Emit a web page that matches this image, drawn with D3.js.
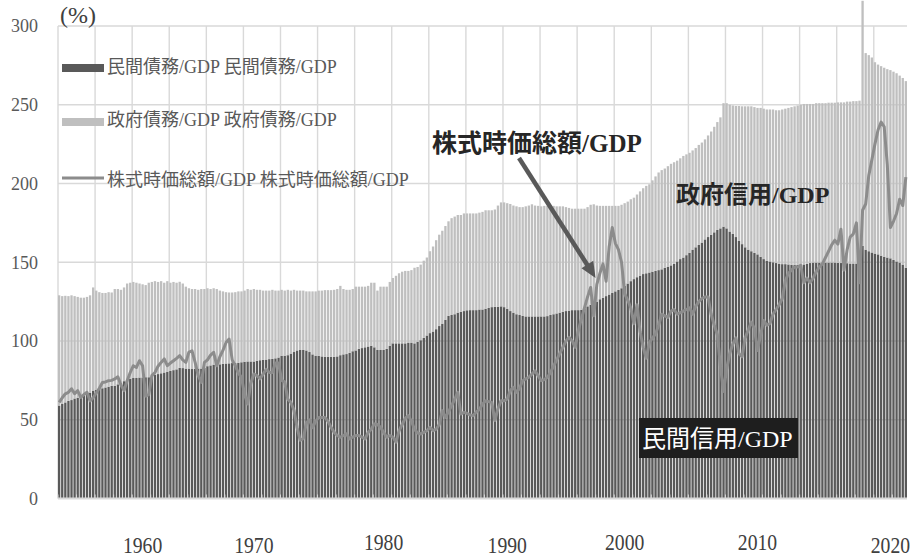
<!DOCTYPE html>
<html><head><meta charset="utf-8">
<script src="https://cdn.jsdelivr.net/npm/d3@7"></script>
<style>body{margin:0;background:#fff}</style>
</head><body>
<svg id="c" width="913" height="559"></svg>
<script>
// ---- data (quarterly, starting 1955Q2) ----
const startYear = 1955, startQuarter = 2;
const privateDebt = [
59,60,61,
62,62.5,63.5,64, 65,65.5,66.5,67, 68.5,69,69.5,70, 70.5,71,71.5,71.6,
72.5,73.5,74.5,75, 76,76.5,76.5,76.8, 76.8,77,77,78, 78.5,79,79.5,80,
80.5,81,81.5,82, 83,82.8,82.5,82.5, 82.2,82.3,82.5,82.5, 83,84,84.5,85,
85,85.2,85.5,85.7, 85.8,86,86,86.2, 86.5,86.8,87,87, 87,87.5,87.8,88,
88.2,88.5,88.6,89, 89.5,90.5,90.7,91, 92,93,94,94.3, 94.3,94,93,91.5,
90.7,90.5,90.2,90, 90,90,90,90.2, 91,91.5,91.7,92.5, 93.5,94,95,95.5,
96,96.5,97,96, 94.3,94.3,94.3,95, 97,98.5,98.5,98.5, 98.5,98.5,99,99,
98.5,99.5,100.5,102, 103.5,105,106,107.5, 109.5,111,113.5,116, 116.5,117,118,118.5,
119,119.5,119.6,119.6, 119.6,120,120,120.5, 121,121.5,121.7,121.7, 122,121.5,120.5,119,
118,117,116.5,116, 115.6,115.6,115.6,115.6, 115.6,115.6,115.6,115.8, 116.5,117,117.5,118,
118.5,119,119.3,119.6, 119.6,119.6,119.8,120.5, 122,123,124,125, 126.5,127.5,128.5,129.5,
130.5,131.5,132.5,133.5, 135,136.5,138,139.3, 140.5,141.5,142.5,143, 143.5,144,144.5,145,
145.5,146.5,147,148, 149,150.5,152,153, 154.5,156,158,159.5, 161,162.5,164.5,166,
167.5,169,170.5,171.5, 172.6,171.5,169.5,168, 166,163.5,161.5,159.5, 158,157,156,155,
153.5,152,151,150.5, 150,149.5,149,148.8, 148.8,148.6,148.4,148.4, 148.4,148.4,148.6,149,
149.5,149.8,149.8,149.8, 149.8,149.8,149.8,149.8, 149.8,149.6,149.5,149.5, 149.4,149.2,149.2,149.2,
150,160.4,158,157, 156.2,155.5,155,154.2, 153.5,153,152.5,151.5, 150.5,149.8,148.5,146.5
];
const govDebt = [
70,68.5,67.7,
66.5,66.5,65,64, 62.5,62,61.5,62, 65.5,63,61.5,60.5, 60,60,59.3,61.4,
60.5,59,59.5,61.5, 61,61,60.5,59.7, 59.2,58.5,60,59.5, 59.5,58.5,58.5,57,
57.5,56,56,55, 54.6,53.7,52,51, 50.8,50.7,50,50.5, 50,49.5,48.5,48.5,
48,46.8,46,45.3, 45,44.8,45,45.3, 45,45.2,46,45.5, 46,45,44.7,44,
43.8,43.5,43.9,43, 42.5,42,41.3,41.5, 40,39.5,38,37.7, 37.7,37.5,38.5,40,
40.8,41.5,41.8,42.3, 42.3,42.3,42.5,42.8, 44,41.5,40.8,40, 39.5,40.5,39.5,39,
38.5,38.5,40,41, 37.7,40.2,40.2,39.5, 40.5,41.5,42.9,44.5, 45.5,46,45.5,46,
48,47.5,48,49, 49.5,52,54,56.5, 58,59,59.5,60, 61.5,62,62,61.5,
62,61.5,61.4,61.4, 61.4,61.5,62,62.5, 62,61.5,61.8,64.3, 66,66.5,67,68,
68,68.5,68.5,69, 69.9,70.4,71.2,70.4, 70.2,69.9,70.2,70, 69.5,68.8,68,67.5,
67,66,65.2,64.4, 64.4,64.4,64.2,63.5, 63,63.5,62.8,61, 59.3,58.3,57.3,56.3,
55.3,54.3,53.3,53, 52.5,52,52,51.7, 52.5,53.5,54.5,55.5, 56,58,60,62,
63,63,64,64.5, 64.5,64,64,64.5, 64,63.5,63,63, 63.5,63.5,63.5,64.5,
65.5,67,68.5,70.5, 78.4,79.5,80.5,81.5, 83.2,85.7,87.5,89.5, 91,92,92.5,93,
94.5,95.5,96,96.5, 97,97,97.5,98.2, 98.7,99.4,100.1,100.6, 101.1,101.6,101.9,101.5,
101,100.7,101.2,101.2, 101.2,101.2,101.5,101.5, 101.5,101.9,102,102, 102.6,102.8,103.1,103.1,
102.6,155.6,124.8,124.5, 123.8,121.5,120.5,120.3, 120,119.6,119.5,119.5, 119.5,118.7,118.5,118.5
];
const stockCap = [
61,64,66.5,
67.4,69.7,66.5,68.5, 64.2,66,67.4,62, 64,67,70,73.7, 74,74.8,75,75.9,
77.3,72,68.5,74.8, 80,84.3,83.2,87.5, 84.3,65,66,78, 80,84,86.4,88.6,
84.3,86,87.5,89, 90.7,88,86.4,93, 93.8,86.4,78,73.7, 86.4,88,91,92.8,
84.3,90,94,99, 101.2,88,84.3,79.5, 77,66,60,73, 79,78,76,79,
82,80,80,86, 86,75,74,63, 61,56,45,37, 38,48,50,45,
49,51.5,51.5,51.5, 49,45.2,42,40, 38.9,40,41,37.8, 39,40,40,39,
37.8,42,44,47.4, 47,45.2,42,38.9, 40,39,35.7,43, 47,51,52.6,49,
44,41.5,41,42, 43,45.2,43,44, 47,55.8,51.5,55, 59,63,67.4,53.7,
54.7,54,53,52.6, 55,56.5,60,62, 61.5,61,49.5,57, 62,62,63.2,68.5,
70.6,67.4,70,74.8, 76,77,79,81, 78,74.8,75.5,77, 80,84,88,92,
96,100,102.3,100.2, 96,106.5,114,121, 128,134,116,136, 143,149,138,160,
172,162,158,150, 130,126,121,111, 123,106,96,89, 99,102,104.4,110,
117,116,115,119, 120,117,118,119, 120,121,117,122, 125,127,128,128,
117,110,104,84, 68,82,92,98, 102,92,90,102, 107,112,108,94,
104,113,110,111, 117,120,123,127, 138,143,145,147, 147,148,137,140,
137,140,144,147, 149,153,157,161, 164,161.5,171,145, 158,166,168,175,
137,183,187,205, 215,225,234,239, 236,212,172,176, 181,190,186,204
];
const yTicks = [0, 50, 100, 150, 200, 250, 300];
const xLabels = ["1960", "1970", "1980", "1990", "2000", "2010", "2020"];
const xLabelAnchors = ["1962Q1", "1971Q1", "1981Q3", "1991Q3", "2001Q1", "2011Q4", "2022Q3"];
const seriesNames = ["民間債務/GDP 民間債務/GDP", "政府債務/GDP 政府債務/GDP", "株式時価総額/GDP 株式時価総額/GDP"];

const quarters = privateDebt.map((_, i) => {
  const q = startQuarter - 1 + i;
  return (startYear + Math.floor(q / 4)) + "Q" + (q % 4 + 1);
});
const rows = quarters.map((q, i) => ({ q, priv: privateDebt[i], gov: govDebt[i], stock: stockCap[i] }));

// ---- layout ----
const L = 58, R = 907, T = 26, B = 498.5;
const svg = d3.select("#c");
const serif = "'Liberation Serif','Noto Sans CJK JP',serif";

const x = d3.scaleBand().domain(quarters).range([L, R]).paddingInner(0.25).paddingOuter(0);
const y = d3.scaleLinear().domain([0, 300]).range([B, T]);
const step = x.step();

// gridlines
const grid = svg.append("g");
grid.selectAll("line.h").data(yTicks.filter(d => d > 0)).join("line")
  .attr("x1", L).attr("x2", R).attr("y1", d => y(d)).attr("y2", d => y(d))
  .attr("stroke", "#d9d9d9").attr("stroke-width", 1.4);
const vIdx = d3.range(0, quarters.length, 12);
grid.selectAll("line.v").data(vIdx).join("line")
  .attr("x1", i => L + i * step).attr("x2", i => L + i * step)
  .attr("y1", T).attr("y2", B)
  .attr("stroke", "#d9d9d9").attr("stroke-width", 1.4);

// stacked bars
const stack = d3.stack().keys(["priv", "gov"])(rows);
const colors = { priv: "#595959", gov: "#bfbfbf" };
svg.append("g").selectAll("g").data(stack).join("g")
  .attr("fill", s => colors[s.key])
  .selectAll("rect").data(s => s).join("rect")
  .attr("x", d => x(d.data.q)).attr("width", x.bandwidth())
  .attr("y", d => y(d[1])).attr("height", d => y(d[0]) - y(d[1]));

// stock line
const line = d3.line().x(d => x(d.q) + x.bandwidth() / 2).y(d => y(d.stock));
svg.append("path").datum(rows).attr("d", line)
  .attr("fill", "none").attr("stroke", "#8c8c8c").attr("stroke-width", 3)
  .attr("stroke-linejoin", "round");

// baseline and tick marks
svg.append("line").attr("x1", L).attr("x2", R).attr("y1", y(0)).attr("y2", y(0))
  .attr("stroke", "#d9d9d9").attr("stroke-width", 2);
svg.append("g").selectAll("line").data(d3.range(0, quarters.length + 1, 6)).join("line")
  .attr("x1", i => L + i * step).attr("x2", i => L + i * step)
  .attr("y1", y(0)).attr("y2", y(0) - 4)
  .attr("stroke", "#d9d9d9").attr("stroke-width", 1);

// y axis labels
svg.append("g").selectAll("text").data(yTicks).join("text")
  .attr("x", 38).attr("y", d => y(d)).attr("dy", "0.35em")
  .attr("text-anchor", "end").attr("font-family", serif).attr("font-size", 18)
  .attr("fill", "#595959").text(d => d);
svg.append("text").attr("x", 60).attr("y", 23).attr("font-family", serif)
  .attr("font-size", 24).attr("fill", "#404040").text("(%)");

// x labels (hand-placed text boxes in original)
const raised = new Set(["1980", "2000", "2010"]);
svg.append("g").selectAll("text").data(xLabels).join("text")
  .attr("transform", (d, i) => `translate(${x(xLabelAnchors[i]) + x.bandwidth() / 2},${raised.has(d) ? 550 : 553}) scale(0.82,1)`)
  .attr("text-anchor", "middle").attr("font-family", serif).attr("font-size", 24)
  .attr("fill", "#404040").text(d => d);

// legend
const lg = svg.append("g").attr("font-family", serif).attr("font-size", 18).attr("fill", "#595959");
lg.append("rect").attr("x", 62).attr("y", 64).attr("width", 42).attr("height", 8).attr("fill", colors.priv);
lg.append("text").attr("x", 107).attr("y", 73).text(seriesNames[0]);
lg.append("rect").attr("x", 62).attr("y", 118).attr("width", 42).attr("height", 8).attr("fill", colors.gov);
lg.append("text").attr("x", 107).attr("y", 126).text(seriesNames[1]);
lg.append("line").attr("x1", 62).attr("x2", 104).attr("y1", 178).attr("y2", 178)
  .attr("stroke", "#8c8c8c").attr("stroke-width", 3);
lg.append("text").attr("x", 107).attr("y", 186).text(seriesNames[2]);

// annotations
svg.append("text").attr("x", 432).attr("y", 152).attr("font-family", serif)
  .attr("font-size", 25).attr("font-weight", "bold").attr("fill", "#262626").text("株式時価総額/GDP");
svg.append("line").attr("x1", 519).attr("y1", 158).attr("x2", 588).attr("y2", 266)
  .attr("stroke", "#595959").attr("stroke-width", 4.5);
svg.append("polygon").attr("points", "595.5,278 581.5,268.3 593.3,260.7").attr("fill", "#595959");

svg.append("text").attr("x", 676).attr("y", 203).attr("font-family", serif)
  .attr("font-size", 24).attr("font-weight", "bold").attr("fill", "#262626").text("政府信用/GDP");

svg.append("rect").attr("x", 639).attr("y", 418).attr("width", 159).attr("height", 40).attr("fill", "#1e1e1e");
svg.append("text").attr("x", 642).attr("y", 447).attr("font-family", serif)
  .attr("font-size", 24).attr("fill", "#ffffff").text("民間信用/GDP");
</script>
</body></html>
